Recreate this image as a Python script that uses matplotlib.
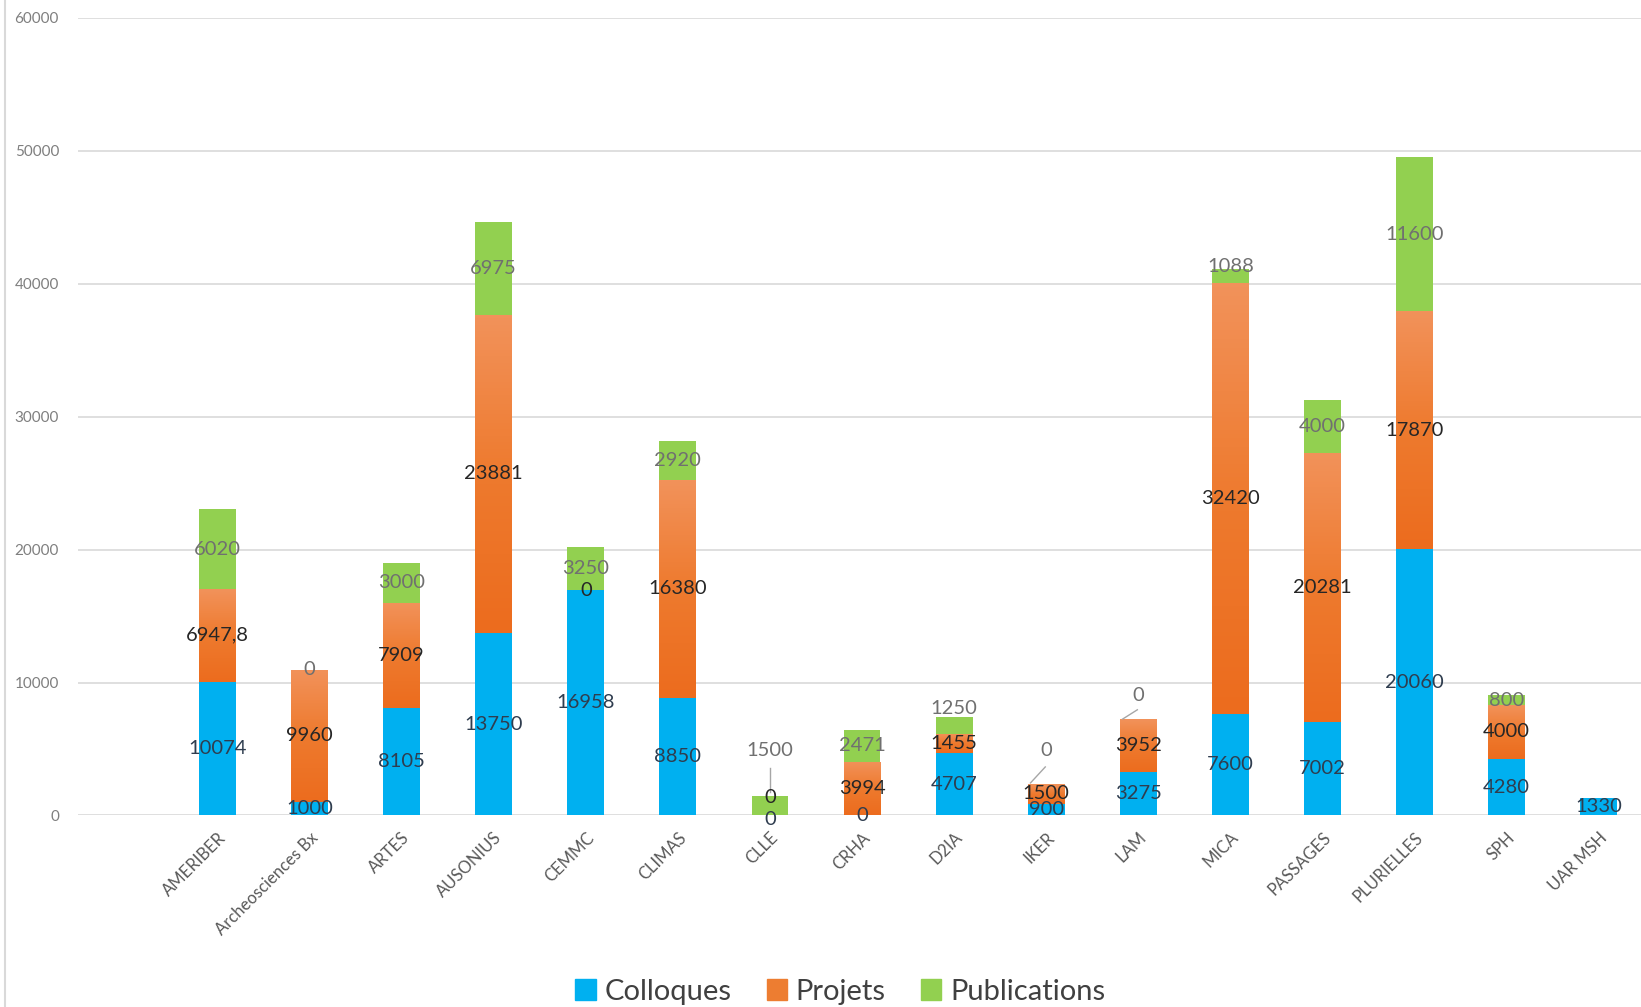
import numpy as np
import matplotlib
matplotlib.use('Agg')
import matplotlib.pyplot as plt
from matplotlib.colors import LinearSegmentedColormap
from matplotlib.lines import Line2D

plt.rcParams['font.family'] = ['Lato', 'DejaVu Sans']

# données
labos = ['AMERIBER', 'Archeosciences Bx', 'ARTES', 'AUSONIUS', 'CEMMC', 'CLIMAS',
         'CLLE', 'CRHA', 'D2IA', 'IKER', 'LAM', 'MICA', 'PASSAGES', 'PLURIELLES',
         'SPH', 'UAR MSH']
colloques = [10074, 1000, 8105, 13750, 16958, 8850, 0, 0, 4707, 900, 3275, 7600,
             7002, 20060, 4280, 1330]
projets = [6947.8, 9960, 7909, 23881, 0, 16380, 0, 3994, 1455, 1500, 3952, 32420,
           20281, 17870, 4000, np.nan]
publications = [6020, 0, 3000, 6975, 3250, 2920, 1500, 2471, 1250, 0, 0, 1088,
                4000, 11600, 800, np.nan]
yticks = [0, 10000, 20000, 30000, 40000, 50000, 60000]

c_blue = '#00B0F0'
c_orange = '#ED7D31'
c_green = '#92D050'

fig = plt.figure(figsize=(16.41, 10.07), dpi=100)
ax = fig.add_axes([0.0478, 0.1902, 0.9522, 0.7921])

x = np.arange(len(labos))
w = 0.4
col = np.array(colloques, dtype=float)
pro = np.nan_to_num(np.array(projets, dtype=float))
pub = np.nan_to_num(np.array(publications, dtype=float))

b1 = ax.bar(x, col, w, color=c_blue, zorder=3)
b2 = ax.bar(x, pro, w, bottom=col, color=c_orange, zorder=3)
b3 = ax.bar(x, pub, w, bottom=col + pro, color=c_green, zorder=3)

# dégradé léger sur les barres orange
cmap = LinearSegmentedColormap.from_list('og', ['#EC6C1E', '#EE7A2E', '#F2925A'])
grad = np.linspace(0, 1, 100).reshape(-1, 1)
for rect in b2:
    h = rect.get_height()
    if h <= 0:
        continue
    x0 = rect.get_x()
    y0 = rect.get_y()
    im = ax.imshow(grad, cmap=cmap, origin='lower', aspect='auto',
                   extent=[x0, x0 + rect.get_width(), y0, y0 + h], zorder=3.5)
    im.set_clip_path(rect)

ax.set_xlim(-1.51, 15.46)
ax.set_ylim(0, 60000)
ax.set_yticks(yticks)
ax.set_yticklabels([str(v) for v in yticks], fontsize=11, color='#7F7F7F')
ax.set_xticks(x)
ax.set_xticklabels(labos, rotation=45, ha='right', rotation_mode='anchor',
                   fontsize=12, color='#595959')
ax.tick_params(axis='both', length=0)
ax.tick_params(axis='y', pad=14)
ax.tick_params(axis='x', pad=10)
ax.grid(axis='y', color='#D9D9D9', lw=1.2, zorder=0)
for s in ax.spines.values():
    s.set_visible(False)

# étiquettes
lab_fs = 14.5
pos_speciales = {(6, 0): -320, (6, 1): 1340, (6, 2): 4890, (8, 2): 8030,
                 (9, 2): 4890, (10, 2): 9050, (11, 2): 41300}
series = [(colloques, col, np.zeros(len(x)), '#2F3D4F'),
          (projets, pro, col, '#262626'),
          (publications, pub, col + pro, '#707070')]
for k, (vals, h, base, tc) in enumerate(series):
    for i in x:
        v = vals[i]
        if v is None or (isinstance(v, float) and np.isnan(v)):
            continue
        yy = base[i] + h[i] / 2
        if (i, k) in pos_speciales:
            yy = pos_speciales[(i, k)]
        txt = ('%g' % v).replace('.', ',')
        ax.text(i, yy, txt, ha='center', va='center', fontsize=lab_fs,
                color=tc, zorder=5)

# lignes de rappel
ax.plot([6, 6], [1750, 3550], color='#A6A6A6', lw=1, zorder=4)
ax.plot([9 - 0.17, 9 - 0.01], [2450, 3650], color='#A6A6A6', lw=1, zorder=4)
ax.plot([10 - 0.17, 10 - 0.01], [7250, 7950], color='#A6A6A6', lw=1, zorder=4)

# légende
handles = [plt.Rectangle((0, 0), 1, 1, color=c) for c in (c_blue, c_orange, c_green)]
fig.legend(handles, ['Colloques', 'Projets', 'Publications'], loc='center',
           bbox_to_anchor=(0.512, 0.015), ncol=3, frameon=False, fontsize=21,
           handlelength=0.7, handleheight=0.7, handletextpad=0.3, columnspacing=1.2,
           labelcolor='#404040')

fig.add_artist(Line2D([0.003, 0.003], [0, 1], color='#D9D9D9', lw=1.5,
                      transform=fig.transFigure))

fig.savefig('out.png', dpi=100)
